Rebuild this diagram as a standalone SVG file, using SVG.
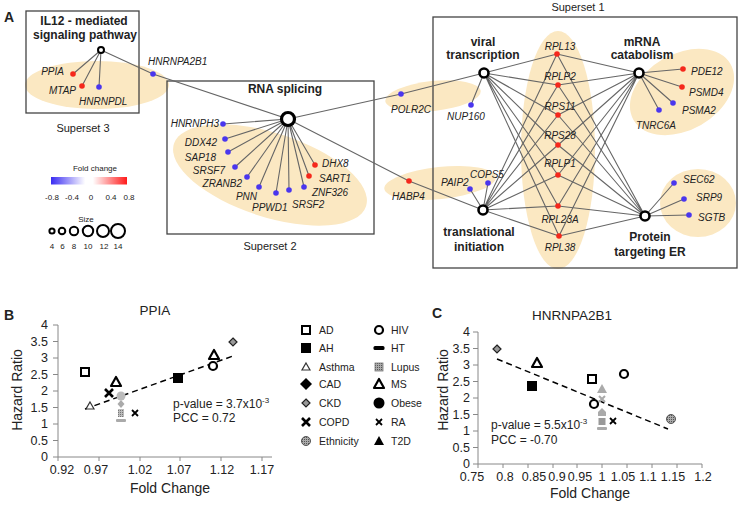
<svg xmlns="http://www.w3.org/2000/svg" width="743" height="505" viewBox="0 0 743 505">
<defs>
<style>
text{font-family:"Liberation Sans",Arial,sans-serif;fill:#222}
.g{font-size:10px;font-style:italic}
.h{font-size:12px;font-weight:bold;text-anchor:middle}
.ss{font-size:11px;text-anchor:middle}
.lg{font-size:8px;text-anchor:middle}
.e{fill:#fbe8c2}
.box{fill:none;stroke:#444;stroke-width:1.3}
.edge{stroke:#666;stroke-width:1.1;fill:none}
.r{fill:#f5281c}
.b{fill:#4a36ee}
.hub{fill:#fff;stroke:#000}
.ax{stroke:#888;stroke-width:1;fill:none}
.tk{font-size:12.5px}
.tl{font-size:13.5px;text-anchor:middle}
.al{font-size:14px;text-anchor:middle}
.st{font-size:12px}
.leg{font-size:10.5px}
.pl{font-size:14px;font-weight:bold}
.trend{stroke:#000;stroke-width:1.5;stroke-dasharray:6,4;fill:none}
</style>
<linearGradient id="fc" x1="0" x2="1" y1="0" y2="0">
<stop offset="0" stop-color="#3a2cf2"/>
<stop offset="0.45" stop-color="#ffffff"/>
<stop offset="0.55" stop-color="#ffffff"/>
<stop offset="1" stop-color="#ff1a1a"/>
</linearGradient>
<pattern id="dots" width="2" height="2" patternUnits="userSpaceOnUse">
<rect width="2" height="2" fill="#aaa"/>
<rect width="1" height="1" fill="#555"/>
</pattern>
<g id="sAD"><rect x="-4" y="-4" width="8" height="8" fill="#fff" stroke="#000" stroke-width="2"/></g>
<g id="sAH"><rect x="-5" y="-5" width="10" height="10" fill="#000"/></g>
<g id="sAs"><path d="M0,-4 L4,3 L-4,3 Z" fill="#fff" stroke="#333" stroke-width="1.2"/></g>
<g id="sCAD"><path d="M0,-6 L6,0 L0,6 L-6,0 Z" fill="#000"/></g>
<g id="sCKD"><path d="M0,-4 L4,0 L0,4 L-4,0 Z" fill="#999" stroke="#222" stroke-width="1.2"/></g>
<g id="sCOPD"><path d="M-4,-4 L4,4 M4,-4 L-4,4" stroke="#000" stroke-width="2.6"/></g>
<g id="sEth"><circle r="4.5" fill="url(#dots)" stroke="#555" stroke-width="1"/></g>
<g id="sHIV"><circle r="4" fill="#fff" stroke="#000" stroke-width="2.2"/></g>
<g id="sHT"><rect x="-5.5" y="-2" width="11" height="4" rx="1.5" fill="#000"/></g>
<g id="sLu"><rect x="-4" y="-4" width="8" height="8" fill="url(#dots)" stroke="#777" stroke-width="0.8"/></g>
<g id="sMS"><path d="M0,-5 L5,4 L-5,4 Z" fill="#fff" stroke="#000" stroke-width="2.2" stroke-linejoin="round"/></g>
<g id="sOb"><circle r="5.5" fill="#000"/></g>
<g id="sRA"><path d="M-3,-3 L3,3 M3,-3 L-3,3" stroke="#000" stroke-width="1.8"/></g>
<g id="sT2D"><path d="M0,-5 L5,4 L-5,4 Z" fill="#000"/></g>
</defs>
<rect width="743" height="505" fill="#fff"/>

<text x="4" y="22" class="pl">A</text>

<!-- background ellipses -->
<g id="ellipses">
<ellipse class="e" cx="97" cy="85" rx="72" ry="24"/>
<ellipse class="e" cx="270" cy="175" rx="101" ry="42" transform="rotate(18 270 175)"/>
<ellipse class="e" cx="433" cy="96" rx="48" ry="15" transform="rotate(-6 433 96)"/>
<ellipse class="e" cx="440" cy="183" rx="56" ry="16" transform="rotate(-6 440 183)"/>
<ellipse class="e" cx="558" cy="150" rx="37" ry="119"/>
<ellipse class="e" cx="682" cy="92" rx="56" ry="38" transform="rotate(-30 682 92)"/>
<ellipse class="e" cx="698" cy="203" rx="38" ry="34"/>
</g>

<!-- boxes -->
<g id="superset3"><rect class="box" x="26" y="11" width="113" height="102"/><text x="83" y="132" class="ss">Superset 3</text></g>
<g id="superset2"><rect class="box" x="167" y="81" width="207" height="153"/><text x="270" y="250" class="ss">Superset 2</text></g>
<g id="superset1"><rect class="box" x="433" y="17" width="304" height="251"/><text x="578" y="11" class="ss">Superset 1</text></g>

<!-- connectors -->
<g id="connectors">
<path class="edge" d="M101,50 L73,74 M101,50 L82,86 M101,50 L99,87 M101,50 L153,74 L288,119"/>
<path class="edge" d="M288,119 L223,124 M288,119 L225,139 M288,119 L228,152 M288,119 L235,167 M288,119 L247,177 M288,119 L259,187 M288,119 L276,193 M288,119 L289,190 M288,119 L304,187 M288,119 L309,176 M288,119 L315,165"/>
<path class="edge" d="M288,119 L401,94 L484,73 M288,119 L409,181 L483,210"/>
<path class="edge" d="M484,73 L471,105 M483,210 L470,189 M483,210 L488,183"/>
<path class="edge" d="M639,73 L683,69 M639,73 L682,87 M639,73 L673,103 M639,73 L659,110"/>
<path class="edge" d="M645,216 L674,183 M645,216 L684,199 M645,216 L689,215"/>
<path class="edge" d="M484,73 L557,54 M484,73 L558,85 M484,73 L558,115 M484,73 L558,145 M484,73 L558,175 M484,73 L558,206 M484,73 L559,236"/>
<path class="edge" d="M639,73 L557,54 M639,73 L558,85 M639,73 L558,115 M639,73 L558,145 M639,73 L558,175 M639,73 L558,206 M639,73 L559,236"/>
<path class="edge" d="M483,210 L557,54 M483,210 L558,85 M483,210 L558,115 M483,210 L558,145 M483,210 L558,175 M483,210 L558,206 M483,210 L559,236"/>
<path class="edge" d="M645,216 L557,54 M645,216 L558,85 M645,216 L558,115 M645,216 L558,145 M645,216 L558,175 M645,216 L558,206 M645,216 L559,236"/>
</g>

<!-- hubs -->
<g id="hub-il12"><circle class="hub" cx="101" cy="50" r="3" stroke-width="2"/><text class="h" x="84" y="25">IL12 - mediated</text><text class="h" x="85" y="39">signaling pathway</text></g>
<g id="hub-rna"><circle class="hub" cx="288" cy="119" r="6.5" stroke-width="3.2"/><text class="h" x="285" y="93">RNA splicing</text></g>
<g id="hub-viral"><circle class="hub" cx="484" cy="73" r="4.5" stroke-width="2.6"/><text class="h" x="483" y="46">viral</text><text class="h" x="483" y="59">transcription</text></g>
<g id="hub-mrna"><circle class="hub" cx="639" cy="73" r="4.5" stroke-width="2.6"/><text class="h" x="642" y="46">mRNA</text><text class="h" x="642" y="59">catabolism</text></g>
<g id="hub-trans"><circle class="hub" cx="483" cy="210" r="4.5" stroke-width="2.6"/><text class="h" x="479" y="236">translational</text><text class="h" x="479" y="251">initiation</text></g>
<g id="hub-er"><circle class="hub" cx="645" cy="216" r="4.5" stroke-width="2.6"/><text class="h" x="650" y="241">Protein</text><text class="h" x="650" y="256">targeting ER</text></g>

<!-- genes -->
<g id="PPIA"><circle class="r" cx="73" cy="74" r="2.8"/><text class="g" x="64" y="75" text-anchor="end">PPIA</text></g>
<g id="MTAP"><circle class="r" cx="82" cy="86" r="2.8"/><text class="g" x="76" y="93.5" text-anchor="end">MTAP</text></g>
<g id="HNRNPDL"><circle class="b" cx="99" cy="87" r="2.8"/><text class="g" x="79" y="105">HNRNPDL</text></g>
<g id="HNRNPA2B1"><circle class="b" cx="153" cy="74" r="2.8"/><text class="g" x="148" y="65">HNRNPA2B1</text></g>

<g id="HNRNPH3"><circle class="b" cx="223" cy="124" r="2.8"/><text class="g" x="219" y="127" text-anchor="end">HNRNPH3</text></g>
<g id="DDX42"><circle class="b" cx="225" cy="139" r="2.8"/><text class="g" x="217" y="145.5" text-anchor="end">DDX42</text></g>
<g id="SAP18"><circle class="b" cx="228" cy="152" r="2.8"/><text class="g" x="216" y="160.5" text-anchor="end">SAP18</text></g>
<g id="SRSF7"><circle class="b" cx="235" cy="167" r="2.8"/><text class="g" x="225" y="173.5" text-anchor="end">SRSF7</text></g>
<g id="ZRANB2"><circle class="b" cx="247" cy="177" r="2.8"/><text class="g" x="242" y="186.5" text-anchor="end">ZRANB2</text></g>
<g id="PNN"><circle class="b" cx="259" cy="187" r="2.8"/><text class="g" x="257" y="199.5" text-anchor="end">PNN</text></g>
<g id="PPWD1"><circle class="b" cx="276" cy="193" r="2.8"/><text class="g" x="252" y="210.5">PPWD1</text></g>
<g id="SRSF2"><circle class="b" cx="289" cy="190" r="2.8"/><text class="g" x="292" y="207.5">SRSF2</text></g>
<g id="ZNF326"><circle class="b" cx="304" cy="187" r="2.8"/><text class="g" x="312" y="195.5">ZNF326</text></g>
<g id="SART1"><circle class="r" cx="309" cy="176" r="2.8"/><text class="g" x="319" y="181.5">SART1</text></g>
<g id="DHX8"><circle class="r" cx="315" cy="165" r="2.8"/><text class="g" x="322" y="166.5">DHX8</text></g>

<g id="POLR2C"><circle class="b" cx="401" cy="94" r="2.8"/><text class="g" x="391" y="112.5">POLR2C</text></g>
<g id="HABP4"><circle class="r" cx="409" cy="181" r="2.8"/><text class="g" x="392" y="199.5">HABP4</text></g>
<g id="NUP160"><circle class="b" cx="471" cy="105" r="2.8"/><text class="g" x="466" y="119.5" text-anchor="middle">NUP160</text></g>
<g id="PAIP2"><circle class="b" cx="470" cy="189" r="2.8"/><text class="g" x="441" y="185.5">PAIP2</text></g>
<g id="COPS5"><circle class="b" cx="488" cy="183" r="2.8"/><text class="g" x="470" y="177.5">COPS5</text></g>

<g id="RPL13"><circle class="r" cx="557" cy="54" r="2.8"/><text class="g" x="560" y="50" text-anchor="middle">RPL13</text></g>
<g id="RPLP2"><circle class="r" cx="558" cy="85" r="2.8"/><text class="g" x="560" y="80" text-anchor="middle">RPLP2</text></g>
<g id="RPS11"><circle class="r" cx="558" cy="115" r="2.8"/><text class="g" x="560" y="110" text-anchor="middle">RPS11</text></g>
<g id="RPS28"><circle class="r" cx="558" cy="145" r="2.8"/><text class="g" x="560" y="139" text-anchor="middle">RPS28</text></g>
<g id="RPLP1"><circle class="r" cx="558" cy="175" r="2.8"/><text class="g" x="560" y="167" text-anchor="middle">RPLP1</text></g>
<g id="RPL23A"><circle class="r" cx="558" cy="206" r="2.8"/><text class="g" x="560" y="223" text-anchor="middle">RPL23A</text></g>
<g id="RPL38"><circle class="r" cx="559" cy="236" r="2.8"/><text class="g" x="560" y="251" text-anchor="middle">RPL38</text></g>

<g id="PDE12"><circle class="r" cx="683" cy="69" r="2.8"/><text class="g" x="691" y="74.5">PDE12</text></g>
<g id="PSMD4"><circle class="r" cx="682" cy="87" r="2.8"/><text class="g" x="689" y="95.5">PSMD4</text></g>
<g id="PSMA2"><circle class="b" cx="673" cy="103" r="2.8"/><text class="g" x="682" y="113.5">PSMA2</text></g>
<g id="TNRC6A"><circle class="b" cx="659" cy="110" r="2.8"/><text class="g" x="656" y="128.5" text-anchor="middle">TNRC6A</text></g>
<g id="SEC62"><circle class="b" cx="674" cy="183" r="2.8"/><text class="g" x="683" y="182.5">SEC62</text></g>
<g id="SRP9"><circle class="b" cx="684" cy="199" r="2.8"/><text class="g" x="696" y="200.5">SRP9</text></g>
<g id="SGTB"><circle class="b" cx="689" cy="215" r="2.8"/><text class="g" x="698" y="220.5">SGTB</text></g>

<!-- legend -->
<g id="legend-fold">
<text class="lg" x="95" y="171">Fold change</text>
<rect x="51" y="177" width="76" height="7.5" fill="url(#fc)"/>
<text class="lg" x="52" y="200">-0.8</text><text class="lg" x="72" y="200">-0.4</text><text class="lg" x="91" y="200">0</text><text class="lg" x="111" y="200">0.4</text><text class="lg" x="129" y="200">0.8</text>
</g>
<g id="legend-size" fill="#fff" stroke="#000" stroke-width="2">
<text class="lg" x="86" y="222" stroke="none" fill="#222">Size</text>
<circle cx="52" cy="231" r="2.6"/><circle cx="62" cy="231" r="3.3"/><circle cx="74" cy="231" r="4.2"/><circle cx="88" cy="231" r="5.2"/><circle cx="103" cy="231" r="6"/><circle cx="118" cy="231" r="7"/>
<g stroke="none" fill="#222"><text class="lg" x="52" y="249">4</text><text class="lg" x="62.5" y="249">6</text><text class="lg" x="74" y="249">8</text><text class="lg" x="88" y="249">10</text><text class="lg" x="104" y="249">12</text><text class="lg" x="118" y="249">14</text></g>
</g>

<!-- Panel B -->
<g id="panelB">
<text x="4" y="320" class="pl">B</text>
<text class="tl" x="155" y="315">PPIA</text>
<path class="ax" d="M58,325 V457 H272 M53,325 H58 M53,341.5 H58 M53,358 H58 M53,374.5 H58 M53,391 H58 M53,407.5 H58 M53,424 H58 M53,440.5 H58 M53,457 H58 M58,457 V461 M99,457 V461 M140,457 V461 M180,457 V461 M221,457 V461 M262,457 V461"/>
<g class="tk" text-anchor="end"><text x="48" y="329">4</text><text x="48" y="345.5">3.5</text><text x="48" y="362">3</text><text x="48" y="378.5">2.5</text><text x="48" y="395">2</text><text x="48" y="411.5">1.5</text><text x="48" y="428">1</text><text x="48" y="444.5">0.5</text><text x="48" y="461">0</text></g>
<g class="tk" text-anchor="middle"><text x="62" y="474">0.92</text><text x="96" y="474">0.97</text><text x="140" y="474">1.02</text><text x="179" y="474">1.07</text><text x="222" y="474">1.12</text><text x="262" y="474">1.17</text></g>
<text class="al" transform="translate(22 390) rotate(-90)">Hazard Ratio</text>
<text class="al" x="170" y="493">Fold Change</text>
<path class="trend" d="M85,409 L233,356"/>
<use href="#sAD" x="85" y="372"/>
<use href="#sMS" x="116" y="382"/>
<use href="#sCOPD" x="109" y="393"/>
<use href="#sAs" x="90" y="406"/>
<circle cx="121" cy="396" r="4.5" fill="#bbb"/>
<path d="M121,400 L124.5,404 L121,408 L117.5,404 Z" fill="#aaa"/>
<rect x="118" y="409" width="6" height="8" fill="url(#dots)" opacity="0.8"/>
<rect x="116" y="419" width="10" height="3" rx="1" fill="#aaa"/>
<use href="#sRA" x="135" y="413"/>
<use href="#sAH" x="178" y="378"/>
<use href="#sHIV" x="213" y="366"/>
<use href="#sMS" x="214" y="355"/>
<use href="#sCKD" x="233" y="342"/>
<text class="st" x="173" y="408">p-value = 3.7x10<tspan font-size="8" dy="-5">-3</tspan></text>
<text class="st" x="173" y="422">PCC = 0.72</text>
</g>

<!-- Legend shapes -->
<g id="legend-disease" class="leg">
<use href="#sAD" x="306" y="330"/><text x="319" y="334">AD</text>
<use href="#sAH" x="306" y="348"/><text x="319" y="352">AH</text>
<use href="#sAs" x="306" y="367"/><text x="319" y="371">Asthma</text>
<use href="#sCAD" x="306" y="384"/><text x="319" y="388">CAD</text>
<use href="#sCKD" x="306" y="403"/><text x="319" y="407">CKD</text>
<use href="#sCOPD" x="306" y="422"/><text x="319" y="426">COPD</text>
<use href="#sEth" x="306" y="441"/><text x="319" y="445">Ethnicity</text>
<use href="#sHIV" x="379" y="330"/><text x="391" y="334">HIV</text>
<use href="#sHT" x="379" y="348"/><text x="391" y="352">HT</text>
<use href="#sLu" x="379" y="367"/><text x="391" y="371">Lupus</text>
<use href="#sMS" x="379" y="384"/><text x="391" y="388">MS</text>
<use href="#sOb" x="379" y="403"/><text x="391" y="407">Obese</text>
<use href="#sRA" x="379" y="422"/><text x="391" y="426">RA</text>
<use href="#sT2D" x="379" y="441"/><text x="391" y="445">T2D</text>
</g>

<!-- Panel C -->
<g id="panelC">
<text x="432" y="318" class="pl">C</text>
<text class="tl" x="572" y="320">HNRNPA2B1</text>
<path class="ax" d="M478,332 V464 H702 M473,332 H478 M473,348.5 H478 M473,365 H478 M473,381.5 H478 M473,398 H478 M473,414.5 H478 M473,431 H478 M473,447.5 H478 M473,464 H478 M478,464 V468 M503,464 V468 M528,464 V468 M553,464 V468 M577,464 V468 M602,464 V468 M627,464 V468 M652,464 V468 M677,464 V468 M702,464 V468"/>
<g class="tk" text-anchor="end"><text x="470" y="336">4</text><text x="470" y="352.5">3.5</text><text x="470" y="369">3</text><text x="470" y="385.5">2.5</text><text x="470" y="402">2</text><text x="470" y="418.5">1.5</text><text x="470" y="435">1</text><text x="470" y="451.5">0.5</text><text x="470" y="468">0</text></g>
<g class="tk" text-anchor="middle"><text x="472" y="481">0.75</text><text x="505" y="481">0.8</text><text x="534" y="481">0.85</text><text x="557" y="481">0.9</text><text x="580" y="481">0.95</text><text x="602" y="481">1</text><text x="623" y="481">1.05</text><text x="648" y="481">1.1</text><text x="673" y="481">1.15</text><text x="703" y="481">1.2</text></g>
<text class="al" transform="translate(448 390) rotate(-90)">Hazard Ratio</text>
<text class="al" x="590" y="498">Fold Change</text>
<path class="trend" d="M497,359 L668,429"/>
<use href="#sCKD" x="497" y="349"/>
<use href="#sMS" x="537" y="363"/>
<use href="#sAH" x="532" y="386"/>
<use href="#sAD" x="592" y="379"/>
<use href="#sHIV" x="624" y="374"/>
<use href="#sHIV" x="594" y="404"/>
<path d="M602,384 L607,393 L597,393 Z" fill="#aaa"/>
<path d="M599,396 L605,402 M605,396 L599,402" stroke="#aaa" stroke-width="2"/>
<path d="M602,408 L606,412 L606,416 L598,416 L598,412 Z" fill="#aaa"/>
<rect x="598.5" y="418" width="7" height="7" fill="#999"/>
<rect x="597" y="427" width="10" height="3" rx="1" fill="#aaa"/>
<use href="#sRA" x="613" y="421"/>
<use href="#sEth" x="671" y="419"/>
<text class="st" x="491" y="428.5">p-value = 5.5x10<tspan font-size="8" dy="-5">-3</tspan></text>
<text class="st" x="491" y="443.5">PCC = -0.70</text>
</g>
</svg>
